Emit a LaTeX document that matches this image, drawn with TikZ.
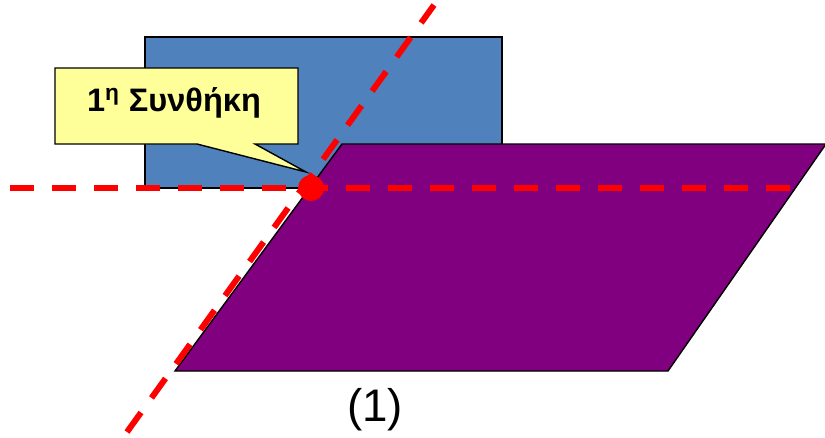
\documentclass[tikz,border=0pt]{standalone}
\usepackage{fontspec}
\setmainfont{Liberation Sans}
\definecolor{planeblue}{RGB}{79,129,189}
\definecolor{planepurple}{RGB}{128,0,128}
\definecolor{noteyellow}{RGB}{255,255,153}
\usepackage{tikz}
\usetikzlibrary{positioning,calc}

\begin{document}
\begin{tikzpicture}[x=0.02cm,y=-0.02cm,
    reddash/.style={draw=red, line width=3.4pt, dash pattern=on 0.48cm off 0.36cm}]
    \useasboundingbox (0,0) rectangle (825,437);
    % back plane
    \filldraw[fill=planeblue, draw=black, line width=0.8pt] (145,37) rectangle (502,188);
    % front plane
    \filldraw[fill=planepurple, draw=black, line width=0.8pt]
        (342,144) -- (826,144) -- (668,371) -- (175,371) -- cycle;
    % callout
    \filldraw[fill=noteyellow, draw=black, line width=0.8pt]
        (55,68) -- (298,68) -- (298,144) -- (255,144) -- (306,172) -- (197,144) -- (55,144) -- cycle;
    \node[font=\fontsize{18.5}{22}\selectfont\bfseries] (cond) at (174,103) {1\textsuperscript{η} Συνθήκη};
    % lines
    \coordinate (dot) at (311,188);
    \coordinate (hleft) at (10,188);
    \coordinate (hright) at (800,188);
    \coordinate (dlow) at (127,432);
    \coordinate (dhigh) at (434,5);
    \draw[reddash] (hleft) -- (hright);
    \draw[reddash] (dlow) -- (dhigh);
    \fill[red] (dot) circle (13);
    \node[font=\fontsize{26}{30}\selectfont] (label) at (375,410) {(1)};
\end{tikzpicture}
\end{document}
